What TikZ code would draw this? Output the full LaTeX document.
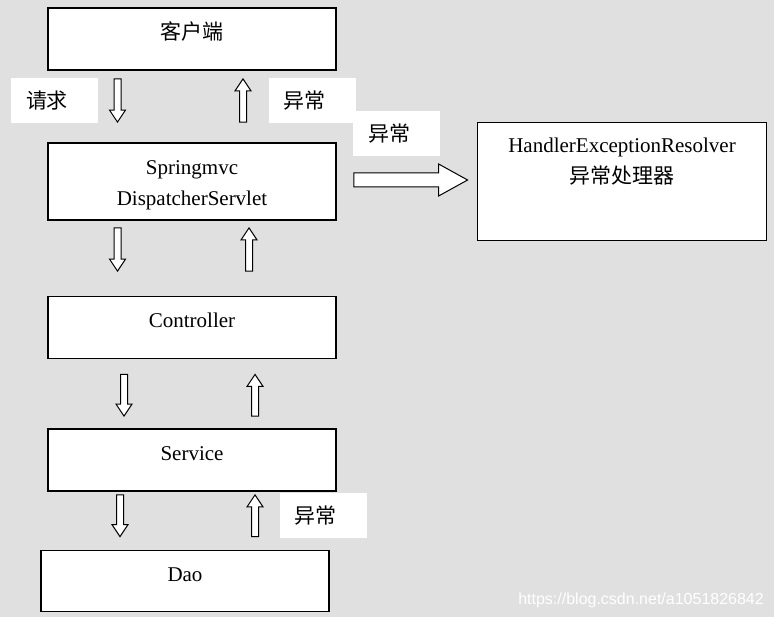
\documentclass[tikz,border=0pt]{standalone}
\usepackage{fontspec}
\setmainfont{Liberation Serif}
\newfontfamily\cjk{Noto Sans CJK SC}
\newfontfamily\markfont{Liberation Sans}
\usetikzlibrary{calc}
\definecolor{bgGray}{RGB}{224,224,224}

% hollow block arrow: start, end, shaft half width, head half width, head length
\newcommand{\hollowarrow}[5]{%
  \coordinate (hb) at ($(#2)!#5!(#1)$);
  \draw[arrowline] ($(#1)!#3!90:(#2)$) -- ($(hb)!#3!-90:(#1)$) -- ($(hb)!#4!-90:(#1)$) -- (#2)
    -- ($(hb)!#4!90:(#1)$) -- ($(hb)!#3!90:(#1)$) -- ($(#1)!#3!-90:(#2)$) -- cycle;}

\tikzset{
  box/.style={draw=black, line width=1.8pt, fill=white, minimum width=288pt, inner sep=0pt},
  boxtext/.style={anchor=base, inner sep=0pt, font=\fontsize{21}{31}\selectfont},
  tag/.style={fill=white, minimum height=45pt, text width=57pt, inner xsep=15pt, align=left,
              font=\cjk\fontsize{21}{25}\selectfont},
  arrowline/.style={draw=black, fill=white, line width=1pt, line join=miter}
}

\begin{document}
\begin{tikzpicture}[x=1pt, y=-1pt]
    \fill[bgGray] (0,0) rectangle (774,617);

    % layers
    \node[box, minimum height=62pt] (client) at (192,39) {};
    \node[box, minimum height=77pt] (mvc) at (192,181.5) {};
    \node[box, minimum height=62pt] (ctrl) at (192,327.5) {};
    \node[box, minimum height=62pt] (service) at (192,460) {};
    \node[box, minimum height=61pt] (dao) at (185,581) {};
    \node[box, minimum width=289pt, minimum height=118pt] (resolver) at (622,181.5) {};

    % base of a two-line node is its last line
    \node[boxtext] (clienttxt) at ($(client.north)+(0,32)$) {\cjk 客户端};
    \node[boxtext, align=center] (mvctxt) at ($(mvc.north)+(0,63)$) {Springmvc\\DispatcherServlet};
    \node[boxtext] (ctrltxt) at ($(ctrl.north)+(0,32)$) {Controller};
    \node[boxtext] (servicetxt) at ($(service.north)+(0,32)$) {Service};
    \node[boxtext] (daotxt) at ($(dao.north)+(0,32)$) {Dao};
    \node[boxtext, align=center] (resolvertxt) at ($(resolver.north)+(0,62)$)
      {HandlerExceptionResolver\\\cjk 异常处理器};

    % tags
    \node[tag] (reqtag) at (54.5,100.5) {请求};
    \node[tag] (exctag1) at (312,100.5) {异常};
    \node[tag] (exctag2) at (396.5,134) {异常};
    \node[tag] (exctag3) at (323,515.5) {异常};

    % arrow ends
    \coordinate (d1a) at ($(client.south)+(-74.5,8)$);
    \coordinate (d1b) at ($(mvc.north)+(-74.5,-20)$);
    \coordinate (u1a) at ($(mvc.north)+(51,-20)$);
    \coordinate (u1b) at ($(client.south)+(51,8)$);
    \coordinate (d2a) at ($(mvc.south)+(-74.5,7)$);
    \coordinate (d2b) at ($(ctrl.north)+(-74.5,-24.5)$);
    \coordinate (u2a) at ($(ctrl.north)+(57,-24.5)$);
    \coordinate (u2b) at ($(mvc.south)+(57,7)$);
    \coordinate (d3a) at ($(ctrl.south)+(-68,15)$);
    \coordinate (d3b) at ($(service.north)+(-68,-12)$);
    \coordinate (u3a) at ($(service.north)+(63,-12)$);
    \coordinate (u3b) at ($(ctrl.south)+(63,15)$);
    \coordinate (d4a) at ($(service.south)+(-72,3)$);
    \coordinate (d4b) at ($(dao.north)+(-65,-13)$);
    \coordinate (u4a) at ($(dao.north)+(70,-13)$);
    \coordinate (u4b) at ($(service.south)+(63,3)$);
    \coordinate (ra) at ($(mvc.east)+(17,-1.5)$);
    \coordinate (rb) at ($(resolver.west)+(-9,-1.5)$);

    \hollowarrow{d1a}{d1b}{3.5pt}{8pt}{12pt}
    \hollowarrow{u1a}{u1b}{3.5pt}{8pt}{12pt}
    \hollowarrow{d2a}{d2b}{3.5pt}{8pt}{12pt}
    \hollowarrow{u2a}{u2b}{3.5pt}{8pt}{12pt}
    \hollowarrow{d3a}{d3b}{3.5pt}{8pt}{12pt}
    \hollowarrow{u3a}{u3b}{3.5pt}{8pt}{12pt}
    \hollowarrow{d4a}{d4b}{3.5pt}{8pt}{12pt}
    \hollowarrow{u4a}{u4b}{3.5pt}{8pt}{12pt}
    \hollowarrow{ra}{rb}{7pt}{16pt}{29pt}

    \node[anchor=base east, inner sep=0pt, text=white, font=\markfont\fontsize{16}{18}\selectfont]
      (mark) at (764,604) {https://blog.csdn.net/a1051826842};
\end{tikzpicture}
\end{document}
